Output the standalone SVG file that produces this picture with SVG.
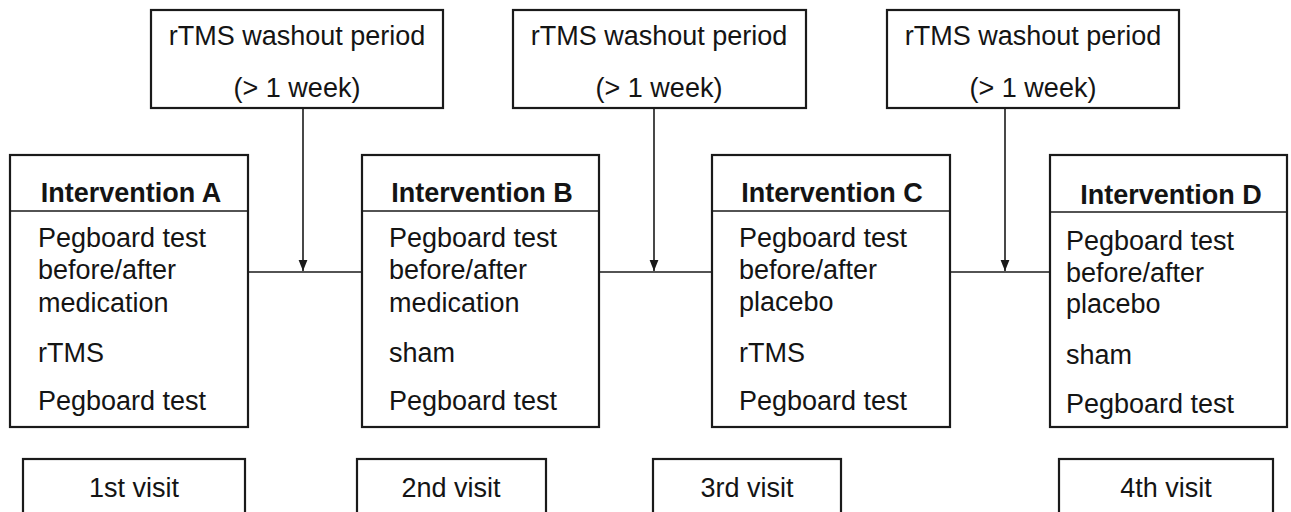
<svg xmlns="http://www.w3.org/2000/svg" width="1291" height="512" viewBox="0 0 1291 512">
<style>
.box{fill:#fff;stroke:#1a1a1a;stroke-width:2.2}
.sep{stroke:#1a1a1a;stroke-width:1.6}
.con{stroke:#1a1a1a;stroke-width:1.6;fill:none}
text{font-family:"Liberation Sans",Arial,sans-serif;fill:#141414}
.t{font-size:27px}
.h{font-size:27px;font-weight:bold}
.c{text-anchor:middle}
.v{font-size:27px;text-anchor:middle}
</style>
<defs>
<marker id="arr" viewBox="0 0 10 10" refX="10" refY="5" markerWidth="11" markerHeight="11" markerUnits="userSpaceOnUse" orient="auto">
<path d="M0,1 L10,5 L0,9 Z" fill="#1a1a1a"/>
</marker>
</defs>
<g id="connectors">
<line class="con" x1="248" y1="272" x2="362" y2="272"/>
<line class="con" x1="599" y1="272" x2="712" y2="272"/>
<line class="con" x1="950" y1="272" x2="1050" y2="272"/>
<line class="con" x1="303" y1="108" x2="303" y2="271" marker-end="url(#arr)"/>
<line class="con" x1="654" y1="108" x2="654" y2="271" marker-end="url(#arr)"/>
<line class="con" x1="1005" y1="108" x2="1005" y2="271" marker-end="url(#arr)"/>
</g>
<g id="washout1">
<rect class="box" x="151" y="10" width="292" height="98"/>
<text class="t c" x="297" y="45">rTMS washout period</text>
<text class="t c" x="297" y="97">(&gt; 1 week)</text>
</g>
<g id="washout2">
<rect class="box" x="513" y="10" width="293" height="98"/>
<text class="t c" x="659" y="45">rTMS washout period</text>
<text class="t c" x="659" y="97">(&gt; 1 week)</text>
</g>
<g id="washout3">
<rect class="box" x="887" y="10" width="292" height="98"/>
<text class="t c" x="1033" y="45">rTMS washout period</text>
<text class="t c" x="1033" y="97">(&gt; 1 week)</text>
</g>
<g id="interventionA">
<rect class="box" x="10" y="155" width="238" height="272"/>
<line class="sep" x1="10" y1="211" x2="248" y2="211"/>
<text class="h c" x="131" y="202">Intervention A</text>
<text class="t" x="38" y="247">Pegboard test</text>
<text class="t" x="38" y="279">before/after</text>
<text class="t" x="38" y="312">medication</text>
<text class="t" x="38" y="362">rTMS</text>
<text class="t" x="38" y="410">Pegboard test</text>
</g>
<g id="interventionB">
<rect class="box" x="362" y="155" width="237" height="272"/>
<line class="sep" x1="362" y1="211" x2="599" y2="211"/>
<text class="h c" x="482" y="202">Intervention B</text>
<text class="t" x="389" y="247">Pegboard test</text>
<text class="t" x="389" y="279">before/after</text>
<text class="t" x="389" y="312">medication</text>
<text class="t" x="389" y="362">sham</text>
<text class="t" x="389" y="410">Pegboard test</text>
</g>
<g id="interventionC">
<rect class="box" x="712" y="155" width="238" height="272"/>
<line class="sep" x1="712" y1="211" x2="950" y2="211"/>
<text class="h c" x="832" y="202">Intervention C</text>
<text class="t" x="739" y="247">Pegboard test</text>
<text class="t" x="739" y="279">before/after</text>
<text class="t" x="739" y="311">placebo</text>
<text class="t" x="739" y="362">rTMS</text>
<text class="t" x="739" y="410">Pegboard test</text>
</g>
<g id="interventionD">
<rect class="box" x="1050" y="155" width="237" height="272"/>
<line class="sep" x1="1050" y1="212" x2="1287" y2="212"/>
<text class="h c" x="1171" y="204">Intervention D</text>
<text class="t" x="1066" y="250">Pegboard test</text>
<text class="t" x="1066" y="282">before/after</text>
<text class="t" x="1066" y="313">placebo</text>
<text class="t" x="1066" y="364">sham</text>
<text class="t" x="1066" y="413">Pegboard test</text>
</g>
<g id="visit1">
<rect class="box" x="23" y="459" width="222" height="70"/>
<text class="v" x="134" y="497">1st visit</text>
</g>
<g id="visit2">
<rect class="box" x="357" y="459" width="189" height="70"/>
<text class="v" x="451" y="497">2nd visit</text>
</g>
<g id="visit3">
<rect class="box" x="653" y="459" width="188" height="70"/>
<text class="v" x="747" y="497">3rd visit</text>
</g>
<g id="visit4">
<rect class="box" x="1059" y="459" width="214" height="70"/>
<text class="v" x="1166" y="497">4th visit</text>
</g>
</svg>
